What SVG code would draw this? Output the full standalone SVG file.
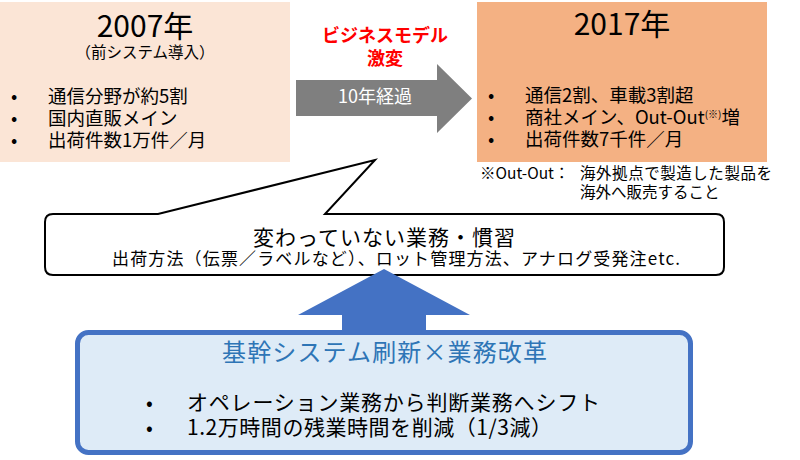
<svg xmlns="http://www.w3.org/2000/svg" width="800" height="460" viewBox="0 0 800 460">
<style>
text{font-family:"Noto Sans CJK JP","Noto Sans",sans-serif;fill:#000}
.b18{font-size:18.5px}
.mid{text-anchor:middle}
.yr{font-size:30px}
.note{font-size:15.5px}
</style>
<rect width="800" height="460" fill="#fff"/>
<g id="box2007">
<rect x="0" y="2" width="290" height="160" fill="#FBE5D6"/>
<text class="yr mid" x="145" y="37">2007年</text>
<text class="mid" x="145" y="58" font-size="15.5">（前システム導入）</text>
<text class="b18" x="11" y="103">•</text>
<text class="b18" x="48" y="103">通信分野が約5割</text>
<text class="b18" x="11" y="125">•</text>
<text class="b18" x="48" y="125">国内直販メイン</text>
<text class="b18" x="11" y="147">•</text>
<text class="b18" x="48" y="147">出荷件数1万件／月</text>
</g>
<g id="box2017">
<rect x="477" y="2" width="290" height="160" fill="#F4B183"/>
<text class="yr mid" x="622" y="35">2017年</text>
<text class="b18" x="488" y="102">•</text>
<text class="b18" x="525" y="102">通信2割、車載3割超</text>
<text class="b18" x="488" y="124">•</text>
<text class="b18" x="525" y="124">商社メイン、Out-Out<tspan font-size="10" dy="-6">(※)</tspan><tspan dy="6">増</tspan></text>
<text class="b18" x="488" y="146">•</text>
<text class="b18" x="525" y="146">出荷件数7千件／月</text>
</g>
<g id="note">
<text class="note" x="480" y="179">※Out-Out：</text>
<text class="note" x="580" y="179" textLength="192" lengthAdjust="spacing">海外拠点で製造した製品を</text>
<text class="note" x="580" y="198">海外へ販売すること</text>
</g>
<g id="change-label">
<text class="mid" x="385" y="42" font-size="18" font-weight="bold" style="fill:#FF0000">ビジネスモデル</text>
<text class="mid" x="385" y="65" font-size="18" font-weight="bold" style="fill:#FF0000">激変</text>
</g>
<g id="connectors">
<polygon id="arrow-10y" points="296,80 437,80 437,64 472,98.5 437,133 437,116 296,116" fill="#7F7F7F"/>
<text class="mid" x="375" y="103" font-size="18" style="fill:#fff">10年経過</text>
</g>
<g id="callout">
<path d="M53 214 L158 214 L375 160 L325 214 L716 214 Q724 214 724 222 L724 267 Q724 275 716 275 L53 275 Q45 275 45 267 L45 222 Q45 214 53 214 Z" fill="#fff" stroke="#000" stroke-width="2" stroke-linejoin="miter"/>
<text class="mid" x="384" y="245" font-size="21" textLength="262" lengthAdjust="spacing">変わっていない業務・慣習</text>
<text class="mid" x="396" y="265" font-size="17" textLength="568" lengthAdjust="spacing">出荷方法（伝票／ラベルなど）、ロット管理方法、アナログ受発注etc.</text>
</g>
<g id="connectors-up">
<polygon id="arrow-up" points="342,336 342,315 298,315 384,269 470,315 426,315 426,336" fill="#4472C4"/>
</g>
<g id="reform">
<rect x="77.5" y="332.5" width="613" height="120" rx="11" fill="#DEEBF7" stroke="#4472C4" stroke-width="5"/>
<text class="mid" x="384.5" y="361" font-size="24" textLength="325" lengthAdjust="spacing" style="fill:#2E75B6">基幹システム刷新×業務改革</text>
<text x="146" y="410" font-size="20">•</text>
<text x="187" y="410" font-size="21" textLength="413" lengthAdjust="spacing">オペレーション業務から判断業務へシフト</text>
<text x="146" y="435" font-size="20">•</text>
<text x="187" y="435" font-size="21" textLength="365" lengthAdjust="spacing">1.2万時間の残業時間を削減（1/3減）</text>
</g>
</svg>
